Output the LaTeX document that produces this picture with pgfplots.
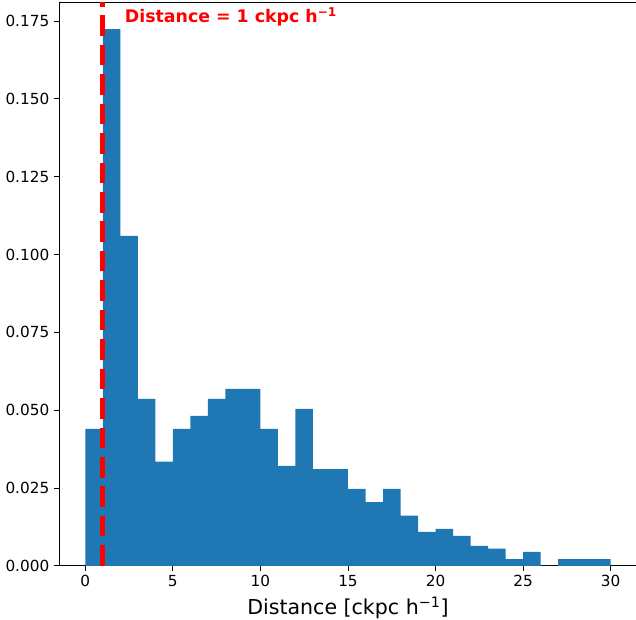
\documentclass[border=0pt]{standalone}
\usepackage{pgfplots}
\pgfplotsset{compat=1.18}
\usepackage{fontspec}
\setmainfont{DejaVu Sans}
\definecolor{mplblue}{HTML}{1F77B4}

\begin{document}
\begin{tikzpicture}
% page frame: the right spine sits just past the edge, as in the reference
\path[use as bounding box] (-42.5pt,-38.9pt) rectangle (415.5pt,407.5pt);
\begin{axis}[
    scale only axis,
    width=416.2pt, height=406.1pt,
    xmin=-1.5, xmax=31.5,
    ymin=0, ymax=0.1811,
    xtick={0,5,...,30},
    ytick={0,0.025,0.05,0.075,0.1,0.125,0.15,0.175},
    tick align=outside, tick pos=left,
    major tick length=3.5pt,
    tick style={black, line width=0.6pt},
    axis line style={line width=0.6pt},
    ticklabel style={font=\fontsize{11}{13}\selectfont},
    /pgf/number format/assume math mode=true,
    scaled y ticks=false,
    yticklabel style={/pgf/number format/fixed,
        /pgf/number format/fixed zerofill,
        /pgf/number format/precision=3},
    xlabel={Distance [ckpc h\textsuperscript{−1}]},
    xlabel style={font=\fontsize{14.8}{18}\selectfont},
]

% histogram (bin left edges, last point closes the interval)
\addplot [ybar interval, fill=mplblue, draw=none] coordinates {
    (0,0.0440) (1,0.1724) (2,0.1060) (3,0.0536) (4,0.0335)
    (5,0.0440) (6,0.0482) (7,0.0536) (8,0.0568) (9,0.0568)
    (10,0.0440) (11,0.0321) (12,0.0504) (13,0.0311) (14,0.0311)
    (15,0.0247) (16,0.0205) (17,0.0247) (18,0.0161) (19,0.0109)
    (20,0.0119) (21,0.0096) (22,0.0064) (23,0.0055) (24,0.0022)
    (25,0.0045) (26,0) (27,0.0022) (28,0.0022) (29,0.0022)
    (30,0.0022)
};

% threshold line
\addplot [red, line width=3.7pt, dash pattern=on 14.8pt off 6.4pt]
    coordinates {(1,0) (1,0.1811)};

\node [anchor=base west, inner sep=0pt, text=red,
       font=\bfseries\fontsize{12.5}{15}\selectfont]
    at (axis cs:2.25,0.1745) {Distance = 1 ckpc h\textsuperscript{−1}};

\end{axis}
\end{tikzpicture}
\end{document}
